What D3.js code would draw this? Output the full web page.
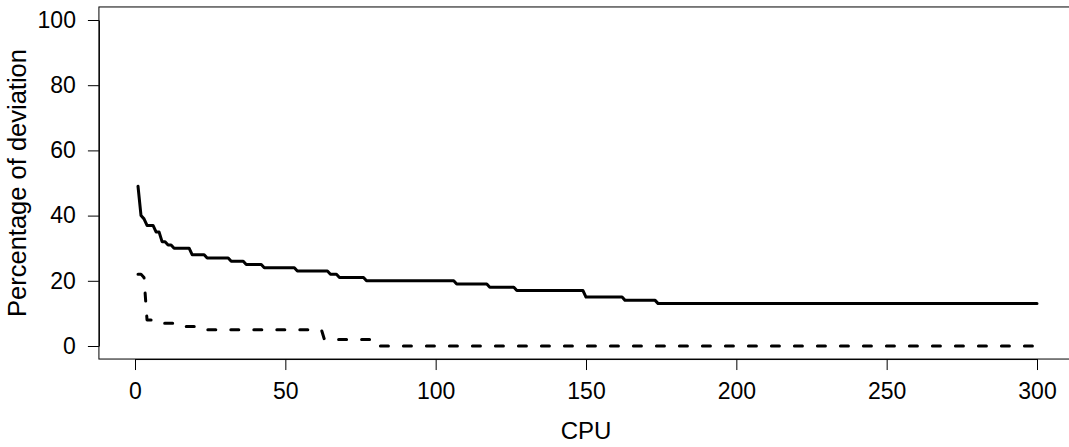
<!DOCTYPE html>
<html><head><meta charset="utf-8">
<script src="https://cdn.jsdelivr.net/npm/d3@7"></script>
<style>body{margin:0;background:#fff}svg{display:block}</style>
</head><body>
<svg id="c" width="1069" height="447"></svg>
<script>
// Vertices of the two step-like series (CPU, % deviation)
const solidX = [1,2,3,4,6,7,8,9,10,11,12,13,18,19,23,24,31,32,36,37,42,43,53,54,64,65,67,68,76,77,106,107,117,118,126,127,149,150,162,163,173,174,300];
const solidY = [49,40,39,37,37,35,35,32,32,31,31,30,30,28,28,27,27,26,26,25,25,24,24,23,23,22,22,21,21,20,20,19,19,18,18,17,17,15,15,14,14,13,13];
const dashX = [1,2,3,4,6,7,15,16,22,23,62,63,80,81,300];
const dashY = [22,22,21,8,8,7,7,6,6,5,5,2,2,0,0];
const xTicks = [0,50,100,150,200,250,300];
const yTicks = [0,20,40,60,80,100];
const xLabel = "CPU";
const yLabel = "Percentage of deviation";

const svg = d3.select("#c");
const font = "'Liberation Sans', Arial, sans-serif";
const x = d3.scaleLinear().domain([0,300]).range([135,1037]);
const y = d3.scaleLinear().domain([0,100]).range([346,20]);
const box = {x0: x(-12), x1: x(312), y0: y(104), y1: y(-4)};

svg.append("rect").attr("x", box.x0).attr("y", box.y0)
  .attr("width", box.x1-box.x0).attr("height", box.y1-box.y0)
  .attr("fill","none").attr("stroke","#000").attr("stroke-width",1);

const line = d3.line().x(d=>x(d[0])).y(d=>y(d[1]));
svg.append("path").datum(solidX.map((v,i)=>[v,solidY[i]]))
  .attr("d", line).attr("fill","none").attr("stroke","#000")
  .attr("stroke-width",3).attr("stroke-linejoin","round").attr("stroke-linecap","round");
svg.append("path").datum(dashX.map((v,i)=>[v,dashY[i]]))
  .attr("d", line).attr("fill","none").attr("stroke","#000")
  .attr("stroke-width",3).attr("stroke-dasharray","8,15").attr("stroke-linejoin","round").attr("stroke-linecap","round");

const gx = svg.append("g").attr("transform",`translate(0,${box.y1})`)
  .call(d3.axisBottom(x).tickValues(xTicks).tickSize(11).tickSizeOuter(0).tickPadding(13).tickFormat(d3.format("d")));
const gy = svg.append("g").attr("transform",`translate(${box.x0},0)`)
  .call(d3.axisLeft(y).tickValues(yTicks).tickSize(11).tickSizeOuter(0).tickPadding(12).tickFormat(d3.format("d")));
[gx,gy].forEach(g=>{
  g.selectAll("text").attr("font-family",font).attr("font-size",23).attr("fill","#000");
  g.selectAll("line,path").attr("stroke","#000");
});

svg.append("text").attr("x",(box.x0+box.x1)/2).attr("y",439)
  .attr("text-anchor","middle").attr("font-family",font).attr("font-size",24).text(xLabel);
svg.append("text").attr("transform",`translate(26,${(box.y0+box.y1)/2}) rotate(-90)`)
  .attr("text-anchor","middle").attr("font-family",font).attr("font-size",25.5).text(yLabel);
</script>
</body></html>
